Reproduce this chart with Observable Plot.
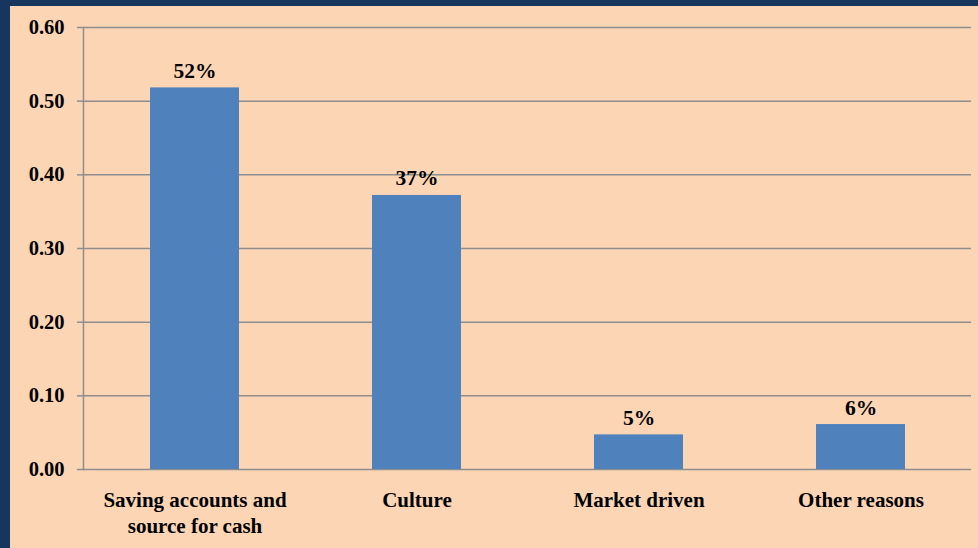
<!DOCTYPE html>
<html>
<head>
<meta charset="utf-8">
<script src="https://cdn.jsdelivr.net/npm/d3@7"></script>
<script src="https://cdn.jsdelivr.net/npm/@observablehq/plot@0.6"></script>
<style>
  html, body { margin: 0; padding: 0; background: #17365D; }
  body { width: 978px; height: 548px; overflow: hidden; position: relative; }
  #chart { position: absolute; left: 10px; top: 6px; width: 968px; height: 542px; background: #FCD5B5; }
  svg { display: block; }
  #chart svg, #chart svg text { font-family: "Liberation Serif", "Times New Roman", serif !important; font-weight: bold; }
</style>
</head>
<body>
<div id="chart"></div>
<script>
const categories = ["Saving accounts and\nsource for cash", "Culture", "Market driven", "Other reasons"];
const values = [0.518, 0.372, 0.047, 0.061];
const valueLabels = ["52%", "37%", "5%", "6%"];
const yTicks = [0, 0.1, 0.2, 0.3, 0.4, 0.5, 0.6];

const data = categories.map((c, i) => ({category: c, value: values[i], label: valueLabels[i]}));

const grid = "#8E8E8E";

const chart = Plot.plot({
  width: 968,
  height: 542,
  marginLeft: 73,
  marginRight: 7,
  marginTop: 21,
  marginBottom: 79,
  style: {background: "transparent", color: "#000"},
  x: {domain: categories, padding: 0.6, paddingOuter: 0.3, label: null},
  y: {domain: [0, 0.6], label: null},
  marks: [
    Plot.ruleY(yTicks, {stroke: grid, strokeWidth: 1.5}),
    Plot.axisY({ticks: yTicks, tickFormat: d3.format(".2f"), tickSize: 6, tickPadding: 13, stroke: grid, strokeWidth: 1.5, strokeOpacity: 1, fontSize: 20.5, fontWeight: "bold", fill: "#000", label: null}),
    Plot.frame({anchor: "left", stroke: grid, strokeWidth: 1.5}),
    Plot.barY(data, {x: "category", y: "value", fill: "#4F81BD"}),
    Plot.text(data, {x: "category", y: "value", text: "label", lineAnchor: "bottom", dy: -10, fontSize: 21.5, fontWeight: "bold", fill: "#000"}),
    Plot.axisX({tickSize: 0, tickPadding: 19, fontSize: 21, fontWeight: "bold", fill: "#000", lineHeight: 1.24, label: null})
  ]
});
document.getElementById("chart").appendChild(chart);
</script>
</body>
</html>
